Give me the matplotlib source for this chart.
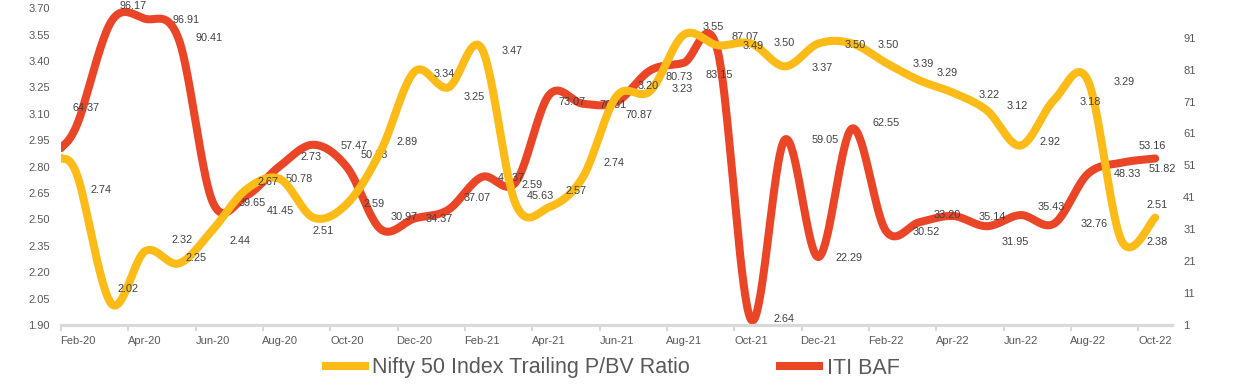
import numpy as np
import matplotlib
matplotlib.use("Agg")
import matplotlib.pyplot as plt
from matplotlib.lines import Line2D

# ---------------- data ----------------
# x positions in months counted from 1 Feb 2020 (first point at start, then mid-month points)
x_months = [0.0] + [k + 0.5 for k in range(33)]
pbv = [2.85, 2.74, 2.02, 2.32, 2.25, 2.44, 2.67, 2.73, 2.51, 2.59, 2.89,
       3.34, 3.25, 3.47, 2.59, 2.57, 2.74, 3.20, 3.23, 3.55, 3.49,
       3.50, 3.37, 3.50, 3.50, 3.39, 3.29, 3.22, 3.12, 2.92, 3.18,
       3.29, 2.38, 2.51]
baf = [56.4, 64.37, 96.17, 96.91, 90.41, 39.65, 41.45, 50.78, 57.47, 50.33, 30.97,
       34.37, 37.07, 47.37, 45.63, 73.07, 70.31, 70.87, 80.73, 83.15, 87.07,
       2.64, 59.05, 22.29, 62.55, 30.52, 33.20, 35.14, 31.95, 35.43, 32.76,
       48.33, 51.82, 53.16]
tick_labels = ["Feb-20", "Apr-20", "Jun-20", "Aug-20", "Oct-20", "Dec-20",
               "Feb-21", "Apr-21", "Jun-21", "Aug-21", "Oct-21", "Dec-21",
               "Feb-22", "Apr-22", "Jun-22", "Aug-22", "Oct-22"]
left_ticks = [1.90, 2.05, 2.20, 2.35, 2.50, 2.65, 2.80, 2.95, 3.10, 3.25, 3.40, 3.55, 3.70]
right_ticks = [1, 11, 21, 31, 41, 51, 61, 71, 81, 91]
series_names = ["Nifty 50 Index Trailing P/BV Ratio", "ITI BAF"]

# label offsets (pixels) for labelled points (all but the first)
pbv_off = [(23, -13), (16, 15), (37, 11), (17, 5.5), (27, -11), (21.5, 7.6), (31, 22),
           (10, -13), (27, 0), (26, 9), (30, -2), (26, -9.5), (30.5, -2), (17, 19),
           (27, 16), (31, 14), (32, 10), (32, 2), (29, 8), (36, -1), (33, 0), (37, -2),
           (37, -1.5), (36, -1.5), (37, -1), (28, 7.5), (36, -2), (30, 4), (29, 4),
           (36, -2), (36.5, -1.5), (36, -1), (2, 13)]
baf_off = [(8, 14.7), (22, 15), (41, -1), (30, 1.6), (40, -1.4), (34.5, -15), (19, -13),
           (41, -1.3), (27, 12.5), (23, 12), (25, -0.5), (29, 12), (29.5, -1), (25, -13.5),
           (23, -7), (30, -1), (23, -13), (29, -6.5), (35, -12), (27.5, 13), (33, 1),
           (40, 0), (31, -1), (34, 5.5), (40, -1), (28, 7), (39.5, -1), (28, -16),
           (31, 8), (39.5, -0.5), (39.5, 0), (41, -6), (-3, 12.5)]

YELLOW = "#FCBB16"
RED = "#EA4527"
TXT = "#404040"
TICK = "#595959"
AXIS = "#D9D9D9"


def smooth(x, y, n=40):
    P = np.column_stack([x, y]).astype(float)
    N = len(P)
    out = []
    t = np.linspace(0, 1, n)[:, None]
    for i in range(N - 1):
        p0 = P[i - 1] if i > 0 else P[i]
        p1, p2 = P[i], P[i + 1]
        p3 = P[i + 2] if i + 2 < N else P[i + 1]
        c1 = p1 + (p2 - p0) / 6.0
        c2 = p2 - (p3 - p1) / 6.0
        seg = (1 - t) ** 3 * p1 + 3 * (1 - t) ** 2 * t * c1 + 3 * (1 - t) * t ** 2 * c2 + t ** 3 * p2
        out.append(seg if i == 0 else seg[1:])
    return np.vstack(out)


plt.rcParams["font.family"] = ["Liberation Sans", "DejaVu Sans"]

fig = plt.figure(figsize=(12.39, 3.90), dpi=100)
ax = fig.add_axes([61 / 1239, 1 - 325 / 390, (1172 - 61) / 1239, (325 - 8.3) / 390])
ax2 = ax.twinx()
ax.set_zorder(ax2.get_zorder() + 1)
ax.patch.set_visible(False)

ys = smooth(x_months, pbv)
rs = smooth(x_months, baf)
ax2.plot(rs[:, 0], rs[:, 1], color=RED, lw=5.8, solid_capstyle="round", solid_joinstyle="round")
ax.plot(ys[:, 0], ys[:, 1], color=YELLOW, lw=5.8, solid_capstyle="round", solid_joinstyle="round")

ax.set_xlim(0, 33)
ax.set_ylim(1.90, 3.70)
ax2.set_ylim(1, 100.2)

for a in (ax, ax2):
    for s in ("top", "left", "right"):
        a.spines[s].set_visible(False)
ax2.spines["bottom"].set_visible(False)
ax.spines["bottom"].set_color(AXIS)
ax.spines["bottom"].set_linewidth(2.3)

ax.set_yticks(left_ticks)
ax.set_yticklabels([f"{v:.2f}" for v in left_ticks])
ax2.set_yticks(right_ticks)
ax2.set_yticklabels([str(v) for v in right_ticks])
ax.tick_params(axis="y", length=0, pad=8, labelsize=8, labelcolor=TICK)
ax2.tick_params(axis="y", length=0, pad=8, labelsize=8, labelcolor=TICK)

major = [2 * i for i in range(len(tick_labels))]
ax.set_xticks(major)
ax.set_xticklabels([""] * len(major))
ax.set_xticks([m + 0.5 for m in major], minor=True)
ax.set_xticklabels(tick_labels, minor=True)
ax.tick_params(axis="x", which="major", length=4, width=1.5, color=AXIS, direction="out")
ax.tick_params(axis="x", which="minor", length=0, pad=8, labelsize=8, labelcolor=TICK)

for xv, yv, (dx, dy) in zip(x_months[1:], pbv[1:], pbv_off):
    ax.annotate(f"{yv:.2f}", (xv, yv), xytext=(dx, dy), textcoords="offset pixels",
                ha="center", va="center", fontsize=7.8, color=TXT, annotation_clip=False, zorder=5)
for xv, yv, (dx, dy) in zip(x_months[1:], baf[1:], baf_off):
    ax2.annotate(f"{yv:.2f}", (xv, yv), xytext=(dx, dy), textcoords="offset pixels",
                 ha="center", va="center", fontsize=7.8, color=TXT, annotation_clip=False, zorder=5)

handles = [Line2D([], [], color=YELLOW, lw=5.8, solid_capstyle="butt"),
           Line2D([], [], color=RED, lw=5.8, solid_capstyle="butt")]
leg = fig.legend(handles, series_names, loc="center", bbox_to_anchor=(610.5 / 1239, 1 - 368 / 390),
                 ncol=2, frameon=False, handlelength=2.2, handletextpad=0.15, columnspacing=4.0,
                 prop={"family": ["Liberation Sans", "DejaVu Sans"], "size": 15.5})
for t in leg.get_texts():
    t.set_color(TICK)

fig.savefig("out.png", dpi=100)
